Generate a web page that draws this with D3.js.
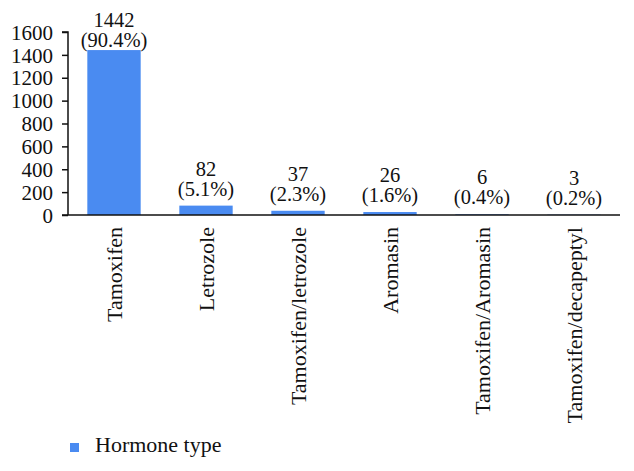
<!DOCTYPE html>
<html>
<head>
<meta charset="utf-8">
<script src="https://cdn.jsdelivr.net/npm/d3@7"></script>
<style>
  html, body { margin: 0; padding: 0; background: #fff; }
  svg { display: block; }
  text { font-family: "Liberation Serif", "DejaVu Serif", serif; fill: #111; }
</style>
</head>
<body>
<svg id="chart" width="634" height="471"></svg>
<script>
const categories = ["Tamoxifen", "Letrozole", "Tamoxifen/letrozole", "Aromasin", "Tamoxifen/Aromasin", "Tamoxifen/decapeptyl"];
const counts = [1442, 82, 37, 26, 6, 3];
const percentLabels = ["(90.4%)", "(5.1%)", "(2.3%)", "(1.6%)", "(0.4%)", "(0.2%)"];
const yTicks = [0, 200, 400, 600, 800, 1000, 1200, 1400, 1600];
const seriesName = "Hormone type";

(function () {
const svg = d3.select("#chart");
const mLeft = 68, mRight = 620, mTop = 32, mBottom = 215;
const barColor = "#4a8bf1";

const x = d3.scaleBand().domain(categories).range([mLeft, mRight]).paddingInner(0.42).paddingOuter(0.21);
const y = d3.scaleLinear().domain([0, 1600]).range([mBottom, mTop]);

// bars
svg.append("g").selectAll("rect").data(categories).join("rect")
  .attr("x", d => x(d))
  .attr("width", x.bandwidth())
  .attr("y", (d, i) => y(counts[i]))
  .attr("height", (d, i) => y(0) - y(counts[i]))
  .attr("fill", barColor);

// y axis
const yAxis = svg.append("g").attr("transform", `translate(${mLeft},0)`)
  .call(d3.axisLeft(y).tickValues(yTicks).tickSize(6).tickPadding(9).tickFormat(d3.format("d")));
yAxis.selectAll("text").style("font-size", "21px").attr("dy", "0.34em");
yAxis.selectAll("line").attr("stroke", "#111").attr("stroke-width", 1.5);
yAxis.select(".domain").attr("stroke", "#111").attr("stroke-width", 1.5).attr("d", `M-6,${mTop}H0V${mBottom}`);

// x axis
const xAxis = svg.append("g").attr("transform", `translate(0,${mBottom})`)
  .call(d3.axisBottom(x).tickSize(0).tickPadding(0));
xAxis.select(".domain").attr("stroke", "#111").attr("stroke-width", 1.5).attr("d", `M${mLeft - 6},0H${mRight}`);
xAxis.selectAll("text")
  .style("font-size", "22px")
  .attr("text-anchor", "end")
  .attr("transform", "translate(0,12) rotate(-90)")
  .attr("x", 0).attr("y", 0).attr("dy", "0.35em");

// value labels
const labels = svg.append("g").selectAll("g").data(categories).join("g")
  .attr("transform", (d, i) => {
    const b2 = Math.max(y(counts[i]) - 10, 47);
    return `translate(${x(d) + x.bandwidth() / 2},${b2})`;
  });
labels.append("text").attr("text-anchor", "middle").attr("y", -20)
  .style("font-size", "20.5px").text((d, i) => counts[i]);
labels.append("text").attr("text-anchor", "middle").attr("y", 0)
  .style("font-size", "20.5px").text((d, i) => percentLabels[i]);

// legend
const lg = svg.append("g").attr("transform", "translate(70,443)");
lg.append("rect").attr("width", 9).attr("height", 9).attr("fill", barColor);
lg.append("text").attr("x", 25).attr("y", 9).style("font-size", "22px").text(seriesName);
})();
</script>
</body>
</html>
